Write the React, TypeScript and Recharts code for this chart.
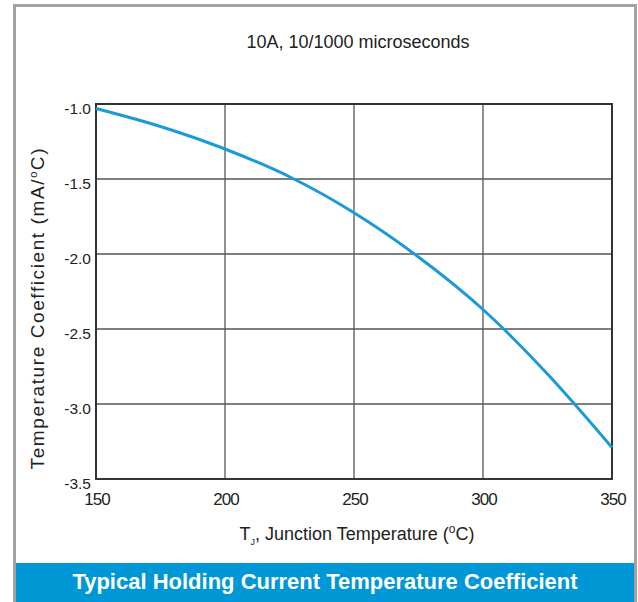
import React from 'react';
import { LineChart, Line, XAxis, YAxis, CartesianGrid, ReferenceArea } from 'recharts';

const temps = [150, 175, 200, 225, 250, 275, 300, 325, 350];
const coef = [-1.03, -1.15, -1.3, -1.485, -1.725, -2.02, -2.37, -2.8, -3.29];
const xTicks = [150, 200, 250, 300, 350];
const yTicks = [-1.0, -1.5, -2.0, -2.5, -3.0, -3.5];

const data = temps.map((t, i) => ({ t, c: coef[i] }));

const FONT = '"Liberation Sans", Arial, sans-serif';

const renderYTick = (props: any) => {
  const { x, y, payload } = props;
  return (
    <text x={x} y={y + 10} textAnchor="end" fontSize={15.5} fill="#222" fontFamily={FONT}>
      {Number(payload.value).toFixed(1)}
    </text>
  );
};

const renderXTick = (props: any) => {
  const { x, y, payload } = props;
  return (
    <text x={x + 1} y={y + 12} textAnchor="middle" fontSize={17} letterSpacing={-1} fill="#222" fontFamily={FONT}>
      {payload.value}
    </text>
  );
};

const App: React.FC = () => {
  return (
    <div style={{ position: 'absolute', left: 0, top: 0, width: 638, height: 602, background: '#fff', overflow: 'hidden', fontFamily: FONT }}>
      {/* frame */}
      <div style={{ position: 'absolute', left: 13, top: 4, width: 618, height: 610, borderLeft: '3px solid #a2a2a6', borderRight: '3px solid #a2a2a6', borderTop: '3px solid #a2a2a6' }} />
      <div style={{ position: 'absolute', left: 16, top: 563, width: 618, height: 40, background: '#0097d7', color: '#fff', fontWeight: 'bold', fontSize: 22, textAlign: 'center', lineHeight: '38px' }}>
        Typical Holding Current Temperature Coefficient
      </div>
      <div style={{ position: 'absolute', left: 0, width: 716, top: 32, fontSize: 18, color: '#222', textAlign: 'center' }}>
        10A, 10/1000 microseconds
      </div>
      <div style={{ position: 'absolute', left: 38, top: 309, width: 0, height: 0 }}>
        <div style={{ position: 'absolute', left: -200, top: -12, width: 400, textAlign: 'center', fontSize: 19, letterSpacing: 1.6, color: '#222', transform: 'rotate(-90deg)', whiteSpace: 'nowrap' }}>
          Temperature Coefficient (mA/<sup style={{ fontSize: 11 }}>o</sup>C)
        </div>
      </div>
      <div style={{ position: 'absolute', left: 0, width: 714, top: 522, fontSize: 18, color: '#222', textAlign: 'center', whiteSpace: 'nowrap' }}>
        T<sub style={{ fontSize: 9 }}>J</sub>, Junction Temperature (<sup style={{ fontSize: 12 }}>o</sup>C)
      </div>
      <div style={{ position: 'absolute', left: 0, top: 0 }}>
        <LineChart width={638} height={602} data={data} margin={{ top: 104, right: 26, bottom: 93, left: 56 }}>
          <CartesianGrid stroke="#555" strokeWidth={1.3} />
          <XAxis
            dataKey="t"
            type="number"
            domain={[150, 350]}
            ticks={xTicks}
            height={30}
            tickSize={0}
            tickMargin={14}
            tickLine={false}
            axisLine={false}
            tick={renderXTick}
            interval={0}
          />
          <YAxis
            type="number"
            domain={[-3.5, -1.0]}
            ticks={yTicks}
            width={40}
            tickSize={0}
            tickMargin={5}
            tickLine={false}
            axisLine={false}
            tick={renderYTick}
            interval={0}
          />
          <ReferenceArea x1={150} x2={350} y1={-3.5} y2={-1.0} fill="none" stroke="#333" strokeWidth={2} ifOverflow="visible" />
          <Line type="monotone" dataKey="c" stroke="#1b9ad8" strokeWidth={3} dot={false} isAnimationActive={false} />
        </LineChart>
      </div>
    </div>
  );
};

export default App;
